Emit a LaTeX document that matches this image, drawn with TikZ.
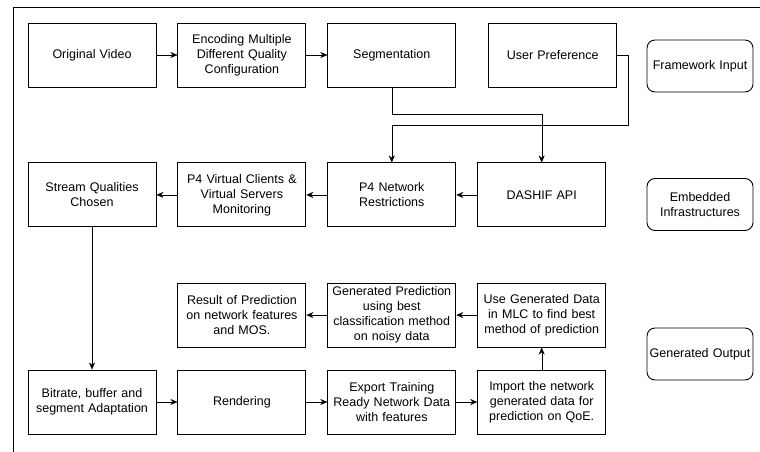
\documentclass[tikz,border=0pt]{standalone}
\usepackage{fontspec}
\setmainfont{Liberation Sans}
\usetikzlibrary{arrows.meta,positioning}

\begin{document}
\begin{tikzpicture}[x=1pt,y=-1pt,node distance=21pt,>={Stealth[length=7pt,width=6pt]},
  box/.style={draw,line width=0.9pt,minimum width=128pt,minimum height=64pt,text width=124pt,align=center,inner sep=0pt,font=\fontsize{12.5}{15}\selectfont},
  tag/.style={draw,line width=0.9pt,rounded corners=8pt,minimum width=106pt,minimum height=52pt,text width=104pt,align=center,inner sep=0pt,font=\fontsize{12.5}{15}\selectfont}]
\useasboundingbox (0,0) rectangle (760,452);
\draw[line width=0.9pt] (13,452) -- (13,7) -- (760,7);
% row 1
\node[box] (video) at (92,55) {Original Video};
\node[box,right=of video] (enc) {Encoding Multiple\\Different Quality\\Configuration};
\node[box,right=of enc] (seg) {Segmentation};
\node[box,right=32pt of seg] (pref) {User Preference};
\node[tag] (input) at (700,66) {Framework Input};
% row 2
\node[box,below=75pt of video] (stream) {Stream Qualities\\Chosen};
\node[box,right=of stream] (virt) {P4 Virtual Clients \&\\Virtual Servers\\Monitoring};
\node[box,right=of virt] (net) {P4 Network\\Restrictions};
\node[box,right=of net] (dashif) {DASHIF API};
\node[tag] (infra) at (700,204.5) {Embedded\\Infrastructures};
% row 4
\node[box] (adapt) at (92,402) {Bitrate, buffer and\\segment Adaptation};
\node[box,right=of adapt] (render) {Rendering};
\node[box,right=of render] (export) {Export Training\\Ready Network Data\\with features};
\node[box,right=of export] (import) {Import the network\\generated data for\\prediction on QoE.};
% row 3
\node[box,above=22pt of render] (result) {Result of Prediction\\on network features\\and MOS.};
\node[box,above=22pt of export] (genpred) {Generated Prediction\\using best\\classification method\\on noisy data};
\node[box,above=22pt of import] (mlc) {Use Generated Data\\in MLC to find best\\method of prediction};
\node[tag] (output) at (700,354) {Generated Output};
\draw[->](video)--(enc);\draw[->](enc)--(seg);
\draw[->](seg.south)--++(0,27)-|(dashif.north);
\draw[->](pref.east)--++(11,0)--++(0,70)-|(net.north);
\draw[->](dashif)--(net);\draw[->](net)--(virt);\draw[->](virt)--(stream);
\draw[->](stream)--(adapt);
\draw[->](adapt)--(render);\draw[->](render)--(export);\draw[->](export)--(import);
\draw[->](import)--(mlc);\draw[->](mlc)--(genpred);\draw[->](genpred)--(result);
\end{tikzpicture}
\end{document}
